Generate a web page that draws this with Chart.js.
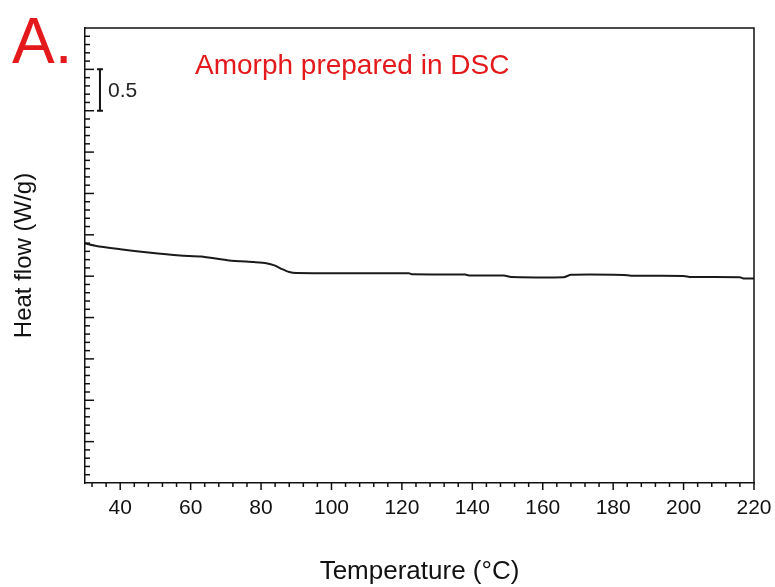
<!DOCTYPE html>
<html lang="en">
<head>
  <meta charset="utf-8">
  <title>Amorph prepared in DSC</title>
  <script src="https://cdn.jsdelivr.net/npm/chart.js"></script>
  <style>
    html, body { margin: 0; padding: 0; background: #fff; }
    #wrap { width: 775px; height: 587px; }
  </style>
</head>
<body>
  <div id="wrap"><canvas id="dscChart"></canvas></div>

  <script>
    // values (temperature in °C, heat flow in W/g, arbitrary offset)
    const temps = [30, 34, 40, 48, 57, 63, 71, 78, 81.5, 84, 86, 88, 90, 100, 122, 123, 138, 139, 149, 151, 166, 168, 183, 185, 200, 202, 216, 217, 220];
    const heatFlow = [2.895, 2.858, 2.826, 2.786, 2.750, 2.738, 2.690, 2.670, 2.657, 2.628, 2.585, 2.550, 2.537, 2.536, 2.535, 2.522, 2.520, 2.509, 2.508, 2.490, 2.488, 2.516, 2.515, 2.505, 2.503, 2.490, 2.487, 2.473, 2.472];

    const xMajorTicks = [40, 60, 80, 100, 120, 140, 160, 180, 200, 220];
    const xMinorStep = 4;
    const yMajorStep = 0.5;
    const yMinorStep = 0.1;
    const scaleBar = [4.5, 5.0];   // 0.5 W/g bar
    const scaleBarAt = 34.25;

    const red = '#e3191c';
    const font = '"Liberation Sans", Arial, sans-serif';

    const decorations = {
      id: 'decorations',
      afterDraw(chart) {
        const { ctx, chartArea: a, scales: { x, y } } = chart;
        ctx.save();
        ctx.strokeStyle = '#111';
        ctx.lineWidth = 1.5;

        // box top and right
        ctx.beginPath();
        ctx.moveTo(a.left, a.top); ctx.lineTo(a.right, a.top); ctx.lineTo(a.right, a.bottom);
        ctx.stroke();

        // x ticks, pointing down
        for (let v = 32; v <= 220; v += xMinorStep) {
          const px = x.getPixelForValue(v);
          const len = xMajorTicks.includes(v) ? 7 : 4;
          ctx.beginPath(); ctx.moveTo(px, a.bottom); ctx.lineTo(px, a.bottom + len); ctx.stroke();
        }

        // y ticks, pointing in
        for (let i = 1; i * yMinorStep < y.max - 1e-9; i++) {
          const v = i * yMinorStep;
          const py = y.getPixelForValue(v);
          const major = Math.abs(v / yMajorStep - Math.round(v / yMajorStep)) < 1e-6;
          ctx.beginPath(); ctx.moveTo(a.left, py); ctx.lineTo(a.left + (major ? 9 : 5), py); ctx.stroke();
        }

        // scale bar
        const bx = x.getPixelForValue(scaleBarAt);
        const b0 = y.getPixelForValue(scaleBar[0]);
        const b1 = y.getPixelForValue(scaleBar[1]);
        ctx.lineWidth = 2;
        ctx.beginPath();
        ctx.moveTo(bx, b0); ctx.lineTo(bx, b1);
        ctx.moveTo(bx - 3, b0); ctx.lineTo(bx + 3, b0);
        ctx.moveTo(bx - 3, b1); ctx.lineTo(bx + 3, b1);
        ctx.stroke();
        ctx.fillStyle = '#222';
        ctx.font = '21px ' + font;
        ctx.textBaseline = 'middle';
        ctx.fillText('0.5', bx + 8, (b0 + b1) / 2 + 1);

        // panel letter and label
        ctx.fillStyle = red;
        ctx.textBaseline = 'alphabetic';
        ctx.font = '64px ' + font;
        ctx.fillText('A.', 12, 63);
        ctx.font = '28px ' + font;
        ctx.fillText('Amorph prepared in DSC', 195, 74);
        ctx.restore();
      }
    };

    new Chart(document.getElementById('dscChart').getContext('2d'), {
      type: 'line',
      data: {
        datasets: [{
          data: temps.map((t, i) => ({ x: t, y: heatFlow[i] })),
          borderColor: '#1a1a1a',
          borderWidth: 2,
          pointRadius: 0,
          tension: 0.2,
          fill: false
        }]
      },
      options: {
        responsive: true,
        maintainAspectRatio: false,
        animation: false,
        layout: { padding: { top: 28, right: 21, left: 0, bottom: 0 } },
        plugins: { legend: { display: false }, tooltip: { enabled: false } },
        scales: {
          x: {
            type: 'linear',
            min: 30,
            max: 220,
            afterBuildTicks: axis => { axis.ticks = xMajorTicks.map(v => ({ value: v })); },
            afterFit: axis => { axis.height = 104; axis.paddingRight = 0; axis.paddingLeft = 0; },
            grid: { display: false, drawTicks: true, tickLength: 7 },
            border: { display: true, color: '#111', width: 1.5 },
            ticks: {
              autoSkip: false, maxRotation: 0, padding: 6, color: '#111',
              font: { family: font, size: 21 }
            },
            title: {
              display: true, text: 'Temperature (°C)', color: '#111',
              font: { family: font, size: 26 },
              padding: { top: 0, bottom: 0 }
            }
          },
          y: {
            min: 0,
            max: 5.5,
            afterFit: axis => { axis.width = 85; },
            grid: { display: false, drawTicks: false },
            border: { display: true, color: '#111', width: 1.5 },
            ticks: { display: false },
            title: {
              display: true, text: 'Heat flow (W/g)', color: '#111',
              font: { family: font, size: 24 },
              padding: { top: 10, bottom: 0 }
            }
          }
        }
      },
      plugins: [decorations]
    });
  </script>
</body>
</html>
